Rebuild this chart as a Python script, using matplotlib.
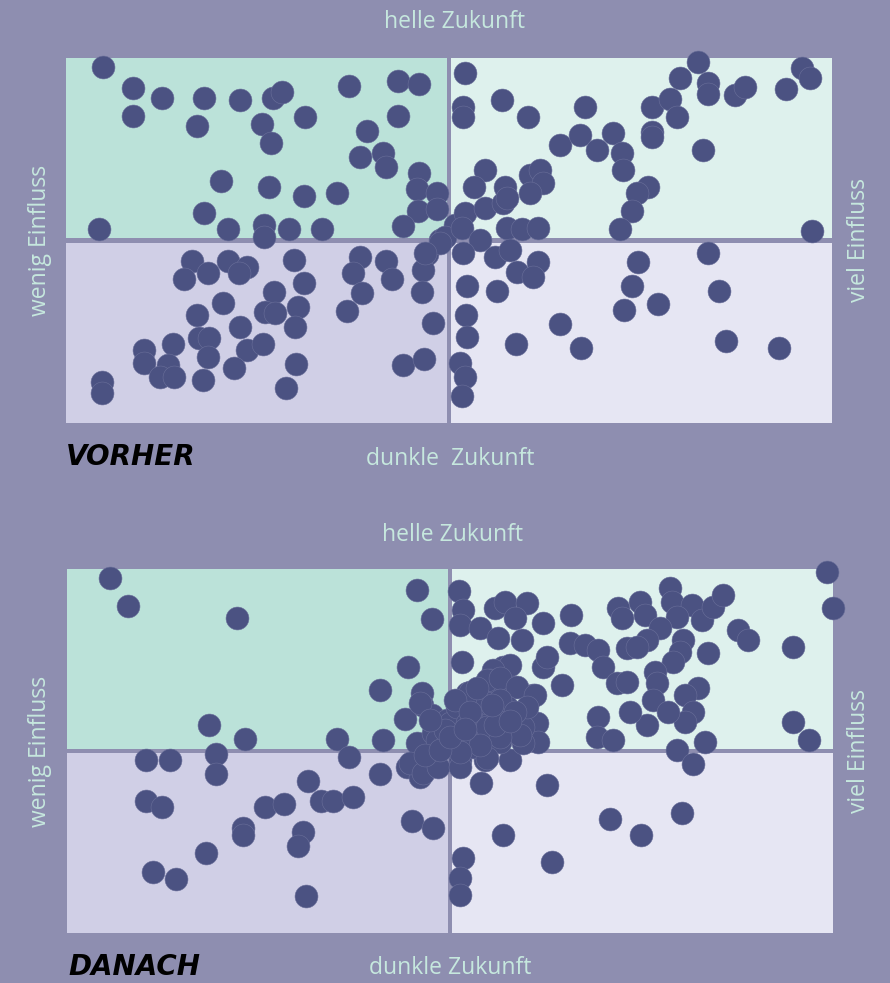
import matplotlib
matplotlib.use("Agg")
import matplotlib.pyplot as plt
from matplotlib.patches import Rectangle

# ---- data (x: Einfluss, y: Zukunft; centre = 0) ----
vorher_x = [-346, -316, -287, -316, -245, -252, -209, -176, -167, -187, -178, -144, -100, -51, -30, -51,
            -82, -89, -66, -63, -30, -32, -12, -31, -12, -46, -228, -180, -145, -112, -245, -221, -185,
            -185, -160, -127, -350, 6, -9, -4,
            16, 14, 14, 53, 79, 136, 111, 131, 164, 148, 173, 174, 203, 221, 231, 249, 259, 259, 228, 203,
            203, 254, 286, 296, 337, 353, 361, 363, 199, 188, 183, 171, 36, 25, 56, 81, 91, 94, 81, 16,
            36, 54, 58, 58, 73, 89, 13, 31,
            14, 46, 61, 89, 68, 84, 18, 48, 17, 18, 67, 111, 132, 189, 183, 175, 209, 259, 270, 277, 330,
            11, 16, 13,
            -257, -265, -241, -221, -202, -210, -155, -145, -175, -226, -252, -209, -184, -174, -151, -154,
            -250, -240, -241, -202, -186, -276, -305, -305, -281, -289, -275, -246, -215, -153, -163, -347,
            -347, -89, -63, -96, -57, -87, -102, -22, -26, -27, -16, -46, -25, -9, -24]
vorher_y = [173, 152, 142, 124, 142, 114, 140, 142, 148, 116, 97, 123, 154, 159, 156, 124,
            109, 83, 87, 73, 67, 51, 47, 29, 31, 14, 59, 53, 44, 47, 27, 11, 15,
            3, 11, 11, 11, 15, 0, 3,
            167, 133, 123, 140, 123, 133, 95, 105, 107, 90, 87, 70, 133, 141, 162, 178, 157, 146, 123, 108,
            103, 90, 145, 153, 151, 172, 162, 9, 53, 47, 29, 11, 70, 53, 53, 65, 70, 57, 47, 27,
            32, 37, 42, 12, 11, 12, 12, 0,
            -13, -17, -10, -22, -32, -37, -46, -51, -75, -97, -104, -84, -108, -22, -46, -70, -64, -13, -51,
            -101, -108, -123, -137, -156,
            -21, -39, -33, -21, -27, -33, -20, -43, -52, -63, -75, -87, -72, -73, -67, -87,
            -98, -98, -117, -110, -104, -104, -110, -123, -125, -137, -137, -140, -128, -124, -148, -142,
            -153, -17, -21, -33, -39, -53, -71, -14, -30, -52, -83, -125, -119, -3, -13]

danach_x = [-340, -322, -213, -33, -18, -42, -70, -28, -28, -45, -113, -67, -241, -205, -33,
            -304, -280, -234, -234, -101, -70, -142, -304, -288, -185, -166, -129, -117, -97, -207, -207,
            -147, -152, -244, -297, -274, -144, -38, -17, -43, -30,
            -18, -30, -17, -7, -13, -17, -40, -27, -12, -3,
            9, 13, 10, 30, 45, 55, 77, 65, 48, 72, 93, 121, 120, 135, 148, 153, 167, 177, 168, 172, 190,
            195, 220, 222, 242, 252, 263, 273, 227, 233, 210, 197, 177, 187, 230, 223, 205, 207, 258, 288,
            298, 343, 377, 383, 343, 359, 248, 235, 203, 243, 235, 218, 197, 180, 255, 227, 243, 148, 147,
            163, 112, 93, 97, 12, 53, 60, 43, 40, 83, 87, 88, 73, 60, 35, 30, 17, 50, 63, 10, 0, 27, 43,
            17, 37, 50, 73, 10,
            20, 37, 50, 67, 85, 77, 57, 37, 7, 17, 37, 70, 50, 7, 23, 10, 37,
            5, 20, -5, -20, 30, 45, 10, -25, 50, 65, 27, -10, 0, 15, 42, 60,
            31, 97, 53, 102, 13, 10, 10, 160, 191, 232]
danach_y = [173, 145, 133, 161, 132, 84, 61, 58, 46, 32, 12, 11, 26, 12, 8,
            -9, -9, -3, -23, -6, -23, -30, -50, -56, -56, -53, -50, -50, -46, -77, -84,
            -81, -95, -102, -121, -128, -145, -70, -77, -16, -26,
            36, 48, 18, 8, 11, -9, -12, -22, -16, 31,
            160, 141, 126, 123, 143, 149, 148, 133, 113, 111, 128, 136, 108, 106, 101, 84, 68, 69, 143, 133,
            149, 136, 163, 149, 146, 131, 144, 156, 134, 111, 123, 111, 103, 104, 99, 89, 79, 68, 98, 121,
            111, 104, 179, 143, 29, 11, 63, 56, 51, 39, 29, 39, 26, 39, 9, 1, -13, 34, 14,
            11, 66, 84, 94, 89, 84, 86, 81, 71, 56, 28, 9, 24, -9, -9, 54, 58, 58, 64, 41, 28, 31, 34,
            14, 18, 9, 8, -9,
            59, 71, 73, 64, 56, 44, 44, 48, 44, 28, 24, 16, 14, 11, 4, -16, -7,
            51, 39, 21, 31, 6, 26, -1, -4, 51, 39, 63, 1, 14, 22, 46, 30,
            -32, -34, -84, -111, -107, -127, -144, -68, -84, -62]

panel_titles = ["VORHER", "DANACH"]
bottom_labels = ["dunkle  Zukunft", "dunkle Zukunft"]
top_label = "helle Zukunft"
left_label = "wenig Einfluss"
right_label = "viel Einfluss"

# ---- style ----
BG = "#8e8eb0"
Q_TL = "#bbe2d9"
Q_TR = "#def1ed"
Q_BL = "#d0cfe6"
Q_BR = "#e6e6f3"
DOT = "#4b5282"
TXT = "#c6e8de"
FONT = ["Open Sans", "DejaVu Sans"]

W, H = 890, 983
fig = plt.figure(figsize=(W / 100, H / 100), dpi=100, facecolor=BG)

XL, YL = 383, 182
GX, GY = 2.0, 2.3

def fx(px):
    return px / W

def fy(py):
    return 1 - py / H

panels = [
    dict(left=66, top=58, bottom=422.5, x=vorher_x, y=vorher_y, title=panel_titles[0],
         blabel=bottom_labels[0], ty=22, tx=455, by=459, bx=450, sy=240, tity=457, titx=66),
    dict(left=66.7, top=569, bottom=933, x=danach_x, y=danach_y, title=panel_titles[1],
         blabel=bottom_labels[1], ty=535, tx=452, by=968, bx=450, sy=751, tity=967, titx=68),
]

for p in panels:
    ax = fig.add_axes([fx(p["left"]), fy(p["bottom"]), 766 / W, (p["bottom"] - p["top"]) / H])
    ax.set_xlim(-XL, XL)
    ax.set_ylim(-YL, YL)
    ax.set_facecolor(BG)
    for s in ax.spines.values():
        s.set_visible(False)
    ax.set_xticks([])
    ax.set_yticks([])
    ax.add_patch(Rectangle((-XL, GY), XL - GX, YL - GY, color=Q_TL, lw=0, zorder=0))
    ax.add_patch(Rectangle((GX, GY), XL - GX, YL - GY, color=Q_TR, lw=0, zorder=0))
    ax.add_patch(Rectangle((-XL, -YL), XL - GX, YL - GY, color=Q_BL, lw=0, zorder=0))
    ax.add_patch(Rectangle((GX, -YL), XL - GX, YL - GY, color=Q_BR, lw=0, zorder=0))
    ax.scatter(p["x"], p["y"], s=272, c=DOT, edgecolors="#6a6f9a", linewidths=0.4,
               zorder=3, clip_on=False)

    fig.text(fx(p["tx"]), fy(p["ty"]), top_label, ha="center", va="center", color=TXT,
             fontsize=16.5, family=FONT)
    fig.text(fx(p["bx"]), fy(p["by"]), p["blabel"], ha="center", va="center", color=TXT,
             fontsize=16.5, family=FONT)
    fig.text(fx(40), fy(p["sy"]), left_label, ha="center", va="center", color=TXT,
             fontsize=16.5, family=FONT, rotation=90)
    fig.text(fx(859), fy(p["sy"]), right_label, ha="center", va="center", color=TXT,
             fontsize=16.5, family=FONT, rotation=90)
    fig.text(fx(p["titx"]), fy(p["tity"]), p["title"], ha="left", va="center", color="black",
             fontsize=20, family=["DejaVu Sans"], fontweight="bold", fontstyle="italic")

fig.savefig("out.png", dpi=100, facecolor=BG)
